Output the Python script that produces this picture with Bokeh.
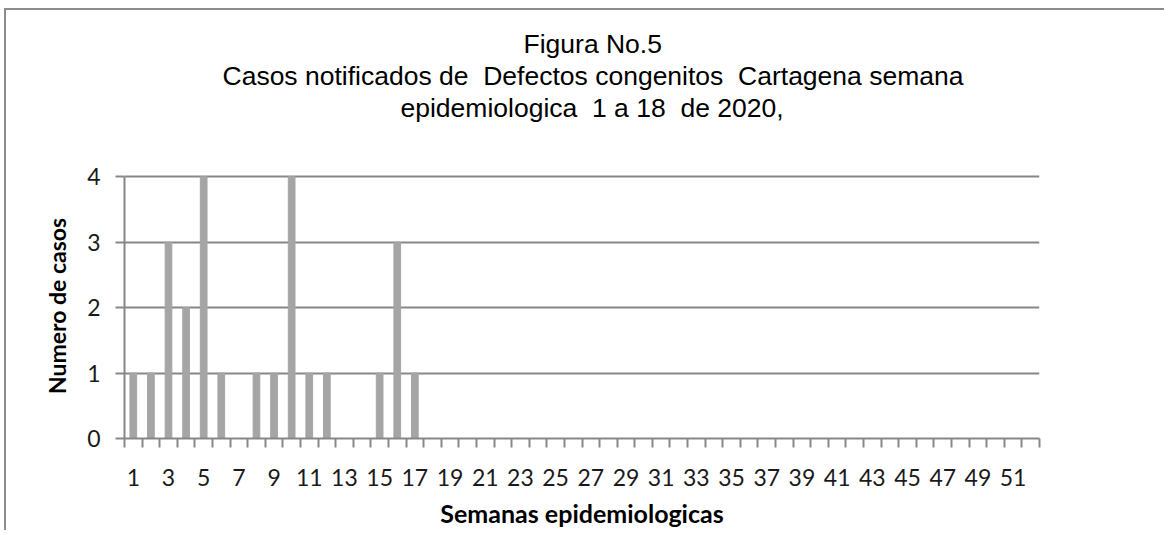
from bokeh.plotting import figure
from bokeh.models import FixedTicker, Range1d, Title
from bokeh.embed import file_html
from bokeh.resources import INLINE

# ---- data ----
weeks = list(range(1, 53))
casos = [1, 1, 3, 2, 4, 1, 0, 1, 1, 4,
         1, 1, 0, 0, 1, 3, 1, 0, 0, 0,
         0, 0, 0, 0, 0, 0, 0, 0, 0, 0,
         0, 0, 0, 0, 0, 0, 0, 0, 0, 0,
         0, 0, 0, 0, 0, 0, 0, 0, 0, 0,
         0, 0]
y_ticks = [0, 1, 2, 3, 4]
x_label_ticks = [w for w in weeks if w % 2 == 1]
x_bounds = [w - 0.5 for w in weeks] + [weeks[-1] + 0.5]

# double spaces kept visible with a no-break space
title_lines = [
    "Figura No.5",
    "Casos notificados de \u00a0Defectos congenitos \u00a0Cartagena semana",
    "epidemiologica \u00a01 a 18 \u00a0de 2020,",
]
title_offsets = [399, 98, 276]

GRID = "#878787"
BAR = "#a5a5a5"

p = figure(width=1160, height=522,
           x_range=Range1d(0.5, 52.5), y_range=Range1d(0, 4.05),
           output_backend="svg", toolbar_location=None,
           min_border_left=118, min_border_right=127,
           min_border_top=163, min_border_bottom=94,
           styles={"margin-left": "4px", "margin-top": "8px",
                   "border-left": "2px solid #8c8c8c",
                   "border-top": "2px solid #8c8c8c"})

p.vbar(x=weeks, top=casos, width=0.38, color=BAR)

p.outline_line_color = None
p.xgrid.visible = False
p.ygrid.ticker = FixedTicker(ticks=y_ticks)
p.ygrid.grid_line_color = GRID
p.ygrid.grid_line_width = 2

xa = p.xaxis[0]
xa.ticker = FixedTicker(ticks=x_label_ticks, minor_ticks=x_bounds)
xa.major_tick_out = 0
xa.major_tick_in = 0
xa.minor_tick_out = 9
xa.minor_tick_in = 0
xa.minor_tick_line_color = GRID
xa.minor_tick_line_width = 2
xa.axis_line_color = GRID
xa.axis_line_width = 2
xa.major_label_text_font = "Lato"
xa.major_label_text_font_size = "23px"
xa.major_label_text_color = "#1a1a1a"
xa.major_label_standoff = 21
xa.axis_label = "Semanas epidemiologicas"
xa.axis_label_text_font = "Lato"
xa.axis_label_text_font_size = "25px"
xa.axis_label_text_font_style = "bold"
xa.axis_label_text_color = "#000000"
xa.axis_label_standoff = 9

ya = p.yaxis[0]
ya.ticker = FixedTicker(ticks=y_ticks)
ya.bounds = (0, 4)
ya.major_tick_out = 9
ya.major_tick_in = 0
ya.minor_tick_out = 0
ya.minor_tick_in = 0
ya.major_tick_line_color = GRID
ya.major_tick_line_width = 2
ya.axis_line_color = GRID
ya.axis_line_width = 2
ya.major_label_text_font = "Lato"
ya.major_label_text_font_size = "23px"
ya.major_label_text_color = "#1a1a1a"
ya.major_label_standoff = 15
ya.axis_label = "Numero de casos"
ya.axis_label_text_font = "Lato"
ya.axis_label_text_font_size = "23px"
ya.axis_label_text_font_style = "bold"
ya.axis_label_text_color = "#000000"
ya.axis_label_standoff = 13

# spacer between the title block and the plot area
p.add_layout(Title(text=" ", text_font_size="10px", standoff=38), "above")
# title lines: closest to the plot added first
for line, off in reversed(list(zip(title_lines, title_offsets))):
    p.add_layout(Title(text=line, align="left", offset=off,
                       text_font="Liberation Sans", text_font_size="26.5px",
                       text_font_style="normal", text_color="#000000",
                       standoff=0), "above")

open("out.html", "w").write(file_html(p, INLINE))
